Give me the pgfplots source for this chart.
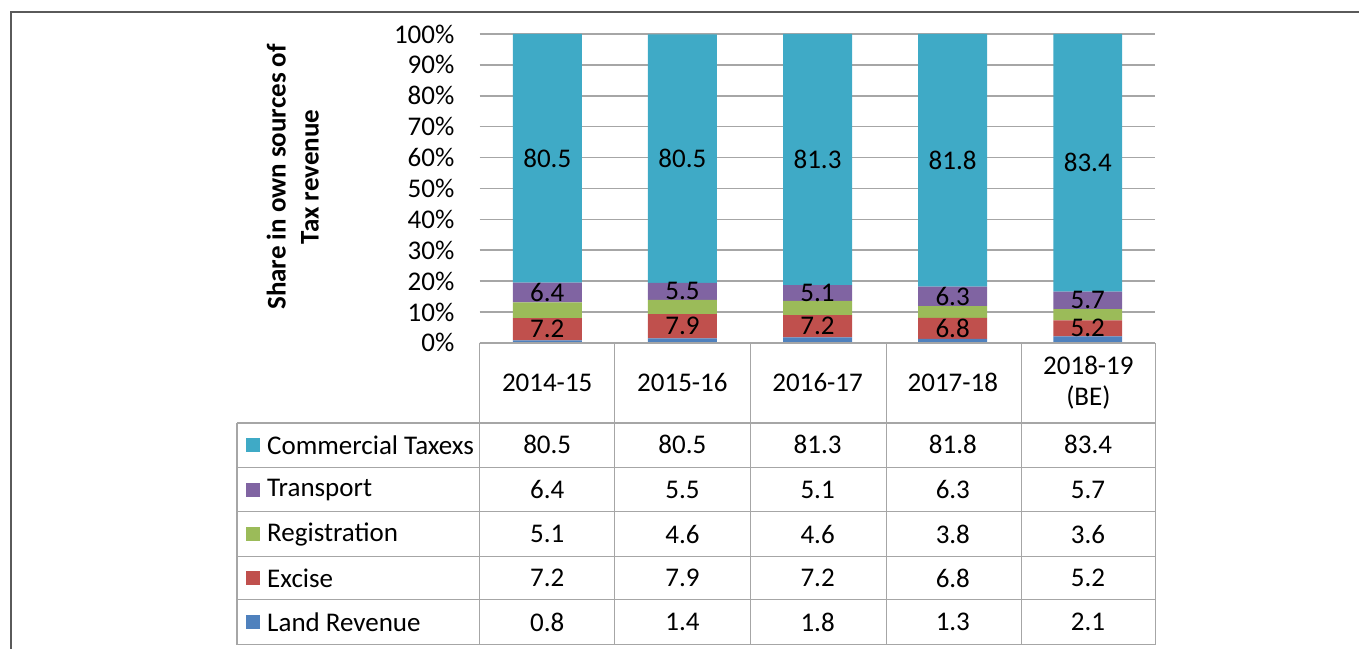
\documentclass[border=0pt]{standalone}
\usepackage{pgfplots}
\usepackage{pgfplotstable}
\pgfplotsset{compat=1.18}
\usepackage{fontspec}
\setmainfont{Carlito}
\definecolor{cComm}{HTML}{3FAAC6}
\definecolor{cTrans}{HTML}{8064A2}
\definecolor{cReg}{HTML}{9BBB59}
\definecolor{cExc}{HTML}{C0504D}
\definecolor{cLand}{HTML}{4F81BD}
\definecolor{gridc}{HTML}{A6A6A6}
\definecolor{framec}{HTML}{5A5A5A}

\pgfplotstableread{
x land excise reg transport commercial
0 0.8 7.2 5.1 6.4 80.5
1 1.4 7.9 4.6 5.5 80.5
2 1.8 7.2 4.6 5.1 81.3
3 1.3 6.8 3.8 6.3 81.8
4 2.1 5.2 3.6 5.7 83.4
}\datatable

\pgfplotsset{
  centerlabels/.style={
    nodes near coords={\pgfmathprintnumber[fixed,fixed zerofill,precision=1]{\pgfplotspointmeta}},
    every node near coord/.append style={anchor=center, font=\fontsize{13.5}{16}\selectfont, text=black, inner sep=0pt},
  },
}

\begin{document}
\begin{tikzpicture}
\fontsize{13.5}{16.5}\selectfont
\begin{scope}[x=0.5pt,y=-0.5pt]
\path[use as bounding box] (0,0) rectangle (1360,649);
\end{scope}
\begin{axis}[
  at={(240pt,-171.5pt)}, anchor=south west,
  scale only axis, width=338pt, height=154.5pt,
  ybar stacked, bar width=34.5pt,
  xmin=-0.5, xmax=4.5, ymin=0, ymax=100,
  ytick={0,10,...,100},
  yticklabel={\pgfmathprintnumber{\tick}\%},
  yticklabel style={anchor=east, inner sep=0pt, xshift=-12.5pt, font=\fontsize{13.5}{16}\selectfont},
  /pgf/number format/assume math mode=true,
  xtick=\empty,
  axis line style={draw=none},
  ymajorgrids, grid style={draw=gridc, line width=0.75pt},
  major tick length=0pt,
  clip=false,
]
\addplot[fill=cLand, draw=none] table[x=x,y=land]{\datatable};
\addplot[fill=cExc, draw=none, centerlabels] table[x=x,y=excise]{\datatable};
\addplot[fill=cReg, draw=none] table[x=x,y=reg]{\datatable};
\addplot[fill=cTrans, draw=none, centerlabels] table[x=x,y=transport]{\datatable};
\addplot[fill=cComm, draw=none, centerlabels] table[x=x,y=commercial]{\datatable};
\end{axis}
\begin{scope}[x=0.5pt,y=-0.5pt]
% frame
\draw[framec, line width=0.8pt] (11,649) -- (11,12) -- (1360,12);
% y label
\node[rotate=90, align=center, font=\bfseries\fontsize{13.5}{16.5}\selectfont] at (293,177) {Share in own sources of\\Tax revenue};
% table lines
\begin{scope}[draw=gridc, line width=0.75pt]
\draw (480,343) -- (1156,343);
\foreach \yy in {423,468,512,557,600,645} \draw (237,\yy) -- (1156,\yy);
\draw (237,423) -- (237,645);
\foreach \xx in {480,615,751,887,1022,1156} \draw (\xx,343) -- (\xx,645);
\end{scope}
% header
\foreach \lab [count=\i from 0] in {2014-15,2015-16,2016-17,2017-18} \node at ({547.5+135.3*\i},383) {\lab};
\node[align=center, font=\fontsize{13.5}{15.5}\selectfont] at (1089,383) {2018-19\\(BE)};
% legend labels
\foreach \col/\nm/\yy in {cComm/Commercial Taxexs/445, cTrans/Transport/490, cReg/Registration/534.5, cExc/Excise/578.5, cLand/Land Revenue/622.5}{
  \fill[\col] (246,\yy-7) rectangle (260,\yy+7);
  \node[anchor=west, inner sep=0pt] at (267,\yy) {\nm};
}
% table values
\foreach \c in {0,...,4}{
  \foreach \col/\yy in {commercial/445, transport/490, reg/534.5, excise/578.5, land/622.5}{
    \pgfplotstablegetelem{\c}{\col}\of\datatable
    \node at ({547.5+135.3*\c},\yy) {\pgfplotsretval};
  }
}
\end{scope}
\end{tikzpicture}
\end{document}
